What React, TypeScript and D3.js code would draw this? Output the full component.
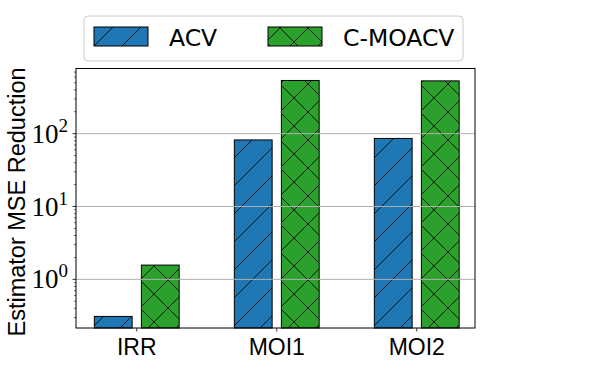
import React from 'react';
import * as d3 from 'd3';

const categories = ['IRR', 'MOI1', 'MOI2'];
const seriesNames = ['ACV', 'C-MOACV'];
const acvValues = [0.31, 82, 86];
const cmoacvValues = [1.57, 537, 530];
const yTicks = [1, 10, 100];
const yTickExps = ['0', '1', '2'];

const colors = ['#1f77b4', '#2ca02c'];
const hatchIds = ['hatch-slash', 'hatch-cross'];

const W = 598;
const H = 373;
const left = 76;
const right = 475;
const top = 68.5;
const bottom = 328;

export default function App() {
  const x = d3.scaleLinear().domain([-0.434, 2.416]).range([left, right]);
  const y = d3.scaleLog().domain([0.215, 784]).range([bottom, top]);
  const barW = 0.27;
  const offset = 0.168;
  const series = [acvValues, cmoacvValues];

  const minor: number[] = [];
  for (let e = -1; e <= 2; e++) {
    for (let k = 2; k <= 9; k++) {
      const v = k * Math.pow(10, e);
      if (v >= 0.215 && v <= 784) minor.push(v);
    }
  }

  const serif = '"Liberation Serif", serif';
  const sans = '"Liberation Sans", sans-serif';
  const legendFont = '"DejaVu Sans", sans-serif';

  return (
    <svg width={W} height={H} style={{ position: 'absolute', left: 0, top: 0 }}>
      <defs>
        <pattern id={hatchIds[0]} patternUnits="userSpaceOnUse" width={28} height={28}>
          <path d="M0,28 L28,0 M-7,7 L7,-7 M21,35 L35,21" stroke="#000" strokeOpacity={0.8} strokeWidth={1} />
        </pattern>
        <pattern id={hatchIds[1]} patternUnits="userSpaceOnUse" width={28} height={28}>
          <path
            d="M0,28 L28,0 M-7,7 L7,-7 M21,35 L35,21 M0,0 L28,28 M-7,21 L7,35 M21,-7 L35,7"
            stroke="#000"
            strokeOpacity={0.8}
            strokeWidth={1}
          />
        </pattern>
      </defs>
      <rect x={0} y={0} width={W} height={H} fill="#fff" />

      {/* bars */}
      {series.map((vals, si) =>
        vals.map((v, ci) => {
          const cx = x(ci + (si === 0 ? -offset : offset));
          const x0 = cx - (x(barW) - x(0)) / 2;
          const w = x(barW) - x(0);
          const yt = y(v);
          return (
            <g key={`${si}-${ci}`}>
              <rect x={x0} y={yt} width={w} height={bottom - yt} fill={colors[si]} />
              <rect x={x0} y={yt} width={w} height={bottom - yt} fill={`url(#${hatchIds[si]})`} stroke="#000" strokeWidth={1} />
            </g>
          );
        })
      )}

      {/* grid */}
      {yTicks.map((t) => (
        <line key={t} x1={left} x2={right} y1={y(t)} y2={y(t)} stroke="#b0b0b0" strokeWidth={1} />
      ))}

      {/* frame */}
      <rect x={left} y={top} width={right - left} height={bottom - top} fill="none" stroke="#000" strokeWidth={1} />

      {/* y ticks */}
      {minor.map((v) => (
        <line key={v} x1={left - 2} x2={left} y1={y(v)} y2={y(v)} stroke="#000" strokeWidth={0.6} />
      ))}
      {yTicks.map((t, i) => (
        <g key={t}>
          <line x1={left - 3.5} x2={left} y1={y(t)} y2={y(t)} stroke="#000" strokeWidth={0.8} />
          <text x={68} y={y(t) + 9} textAnchor="end" fontFamily={serif} fontSize={27} fill="#000">
            10
            <tspan dy={-11} fontSize={19}>{yTickExps[i]}</tspan>
          </text>
        </g>
      ))}

      {/* x ticks */}
      {categories.map((c, i) => (
        <g key={c}>
          <line x1={x(i)} x2={x(i)} y1={bottom} y2={bottom + 3.5} stroke="#000" strokeWidth={0.8} />
          <text x={x(i)} y={355} textAnchor="middle" fontFamily={sans} fontSize={23} fill="#000">
            {c}
          </text>
        </g>
      ))}

      {/* y label */}
      <text
        transform="translate(25,202) rotate(-90)"
        textAnchor="middle"
        fontFamily={sans}
        fontSize={23.5}
        fill="#000"
      >
        Estimator MSE Reduction
      </text>

      {/* legend */}
      <rect x={84} y={16} width={379} height={45} rx={4} fill="#fff" fillOpacity={0.8} stroke="#cccccc" strokeWidth={1} />
      {seriesNames.map((s, i) => {
        const px = i === 0 ? 94 : 268;
        return (
          <g key={s}>
            <rect x={px} y={27} width={54} height={19} fill={colors[i]} />
            <rect x={px} y={27} width={54} height={19} fill={`url(#${hatchIds[i]})`} stroke="#000" strokeWidth={1} />
            <text x={px + 75} y={46} fontFamily={legendFont} fontSize={23.5} fill="#000">
              {s}
            </text>
          </g>
        );
      })}
    </svg>
  );
}
